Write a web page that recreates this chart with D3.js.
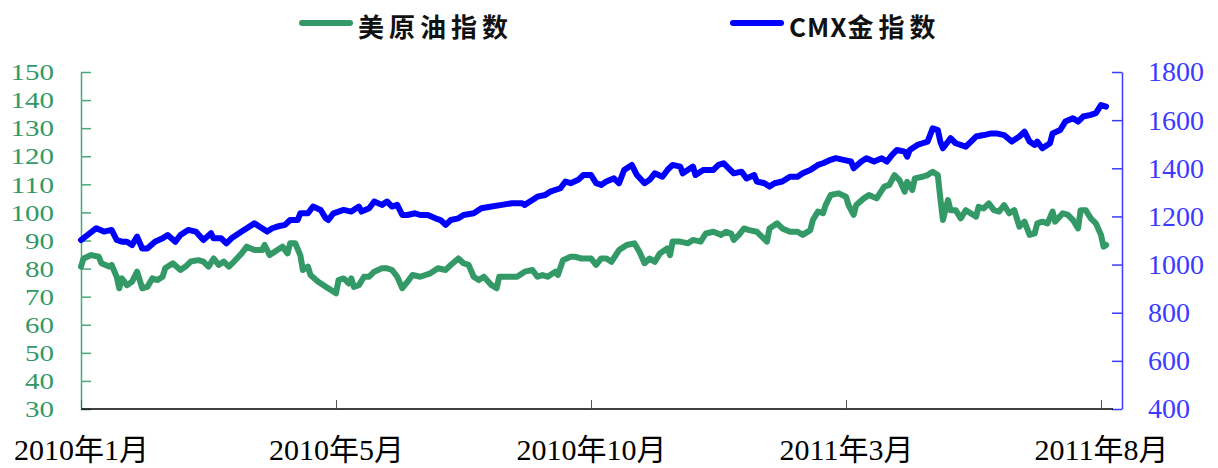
<!DOCTYPE html>
<html lang="zh">
<head>
<meta charset="UTF-8" />
<title>美原油指数 / CMX金指数</title>
<script src="https://cdn.jsdelivr.net/npm/d3@7"></script>
<style>
	body { margin: 0; background: #fff; }
	text { font-family: "Liberation Serif", "Noto Sans CJK SC", serif; }
</style>
</head>
<body>
<svg id="vis" width="1218" height="468"></svg>
<script>
	// trading-day index on the x axis (one category per trading day)
	const tickDays = [0, 100, 200, 300, 400];
	const tickLabels = ["2010年1月", "2010年5月", "2010年10月", "2011年3月", "2011年8月"];

	const seriesNames = ["美原油指数", "CMX金指数"];

	// 美原油指数
	const oilDays = [0, 1, 4, 7, 8, 11, 12, 14, 15, 16, 18, 20, 22, 24, 26, 28, 30, 32, 33, 36, 39, 41, 43, 46, 48, 50, 52, 54, 56, 58, 60, 63, 65, 68, 71, 72, 74, 77, 79, 81, 82, 84, 86, 87, 89, 90, 93, 96, 98, 100, 101, 103, 105, 106, 107, 109, 111, 113, 115, 118, 120, 122, 124, 126, 128, 130, 133, 137, 140, 143, 145, 148, 150, 152, 154, 156, 158, 161, 163, 164, 166, 169, 171, 174, 177, 179, 181, 183, 186, 187, 189, 192, 194, 196, 199, 200, 202, 204, 206, 208, 211, 214, 217, 219, 221, 223, 225, 227, 230, 231, 232, 235, 238, 240, 243, 245, 248, 251, 253, 255, 256, 258, 260, 262, 265, 267, 269, 270, 273, 275, 278, 281, 283, 286, 287, 289, 291, 292, 294, 297, 300, 301, 303, 304, 307, 309, 312, 315, 317, 319, 321, 323, 324, 326, 327, 330, 332, 334, 336, 337, 338, 340, 341, 343, 345, 347, 351, 352, 354, 356, 358, 360, 362, 364, 366, 368, 370, 372, 374, 375, 377, 379, 381, 382, 385, 387, 389, 391, 392, 394, 396, 398, 400, 401, 402];
	const oilValues = [80.7, 83.6, 84.8, 84.2, 81.9, 80.7, 81.3, 77.1, 73.0, 76.5, 74.1, 75.3, 78.9, 73.0, 73.5, 76.5, 75.9, 77.1, 80.1, 81.9, 79.5, 80.7, 82.5, 83.0, 82.5, 80.7, 83.6, 81.3, 82.5, 80.7, 82.5, 85.4, 87.8, 86.6, 86.6, 88.4, 84.8, 86.6, 87.8, 85.4, 89.0, 89.0, 84.8, 79.5, 80.7, 77.7, 75.3, 73.5, 72.4, 71.2, 75.9, 76.5, 74.7, 76.5, 73.5, 74.1, 77.1, 77.1, 78.9, 80.1, 80.1, 79.5, 77.1, 73.0, 75.3, 77.7, 77.1, 78.3, 80.1, 79.5, 81.3, 83.6, 81.9, 81.3, 77.1, 75.9, 77.1, 74.1, 73.0, 77.1, 77.1, 77.1, 77.1, 78.9, 79.5, 77.1, 77.7, 77.1, 78.9, 77.7, 83.0, 84.2, 84.2, 83.6, 83.6, 83.6, 81.3, 83.6, 83.6, 82.4, 86.6, 88.4, 89.0, 86.0, 81.9, 83.6, 82.4, 85.4, 87.2, 84.8, 89.6, 89.6, 89.0, 90.2, 89.6, 92.5, 93.1, 92.0, 93.1, 92.5, 90.2, 92.0, 94.3, 93.7, 93.1, 91.4, 89.6, 94.3, 96.1, 94.3, 93.1, 93.1, 92.0, 93.7, 97.3, 100.3, 99.7, 102.6, 106.2, 106.8, 105.6, 102.6, 99.1, 102.6, 105.0, 106.2, 105.0, 109.2, 109.8, 113.3, 111.5, 107.4, 110.9, 108.0, 112.1, 112.7, 113.3, 114.5, 113.3, 105.0, 97.3, 104.4, 100.8, 100.8, 97.9, 100.8, 98.5, 102.0, 101.4, 103.2, 100.8, 100.3, 102.6, 99.7, 100.8, 94.9, 96.7, 92.0, 92.5, 96.1, 96.7, 96.1, 100.3, 96.7, 99.7, 99.1, 97.3, 94.3, 100.8, 100.8, 97.9, 96.1, 92.0, 87.8, 88.4];

	// CMX金指数
	const goldDays = [0, 6, 9, 12, 14, 16, 18, 20, 22, 24, 26, 29, 32, 34, 37, 39, 42, 45, 48, 51, 52, 55, 57, 59, 63, 65, 68, 71, 73, 75, 77, 80, 82, 85, 86, 89, 91, 94, 96, 97, 99, 103, 106, 109, 110, 113, 115, 118, 120, 122, 124, 126, 128, 131, 133, 136, 139, 141, 143, 145, 148, 150, 154, 157, 161, 165, 169, 173, 174, 177, 179, 182, 184, 188, 190, 192, 195, 197, 200, 202, 204, 206, 209, 211, 213, 216, 218, 221, 223, 225, 228, 230, 232, 235, 236, 240, 241, 244, 248, 250, 252, 254, 256, 259, 261, 264, 265, 268, 270, 272, 275, 278, 281, 283, 286, 289, 291, 294, 296, 299, 302, 303, 306, 308, 311, 314, 316, 318, 320, 323, 324, 325, 328, 330, 332, 334, 336, 337, 338, 341, 343, 347, 349, 351, 354, 357, 359, 362, 365, 368, 370, 372, 374, 375, 377, 380, 381, 384, 386, 389, 391, 393, 396, 398, 400, 402];
	const goldValues = [1102, 1151, 1137, 1144, 1102, 1095, 1095, 1081, 1116, 1067, 1067, 1095, 1109, 1123, 1095, 1123, 1144, 1137, 1102, 1130, 1109, 1109, 1088, 1109, 1137, 1151, 1171, 1151, 1137, 1151, 1158, 1165, 1185, 1185, 1213, 1213, 1241, 1227, 1192, 1185, 1213, 1227, 1220, 1241, 1220, 1234, 1262, 1248, 1262, 1241, 1248, 1206, 1206, 1213, 1206, 1206, 1192, 1185, 1165, 1185, 1192, 1206, 1213, 1234, 1241, 1248, 1255, 1255, 1248, 1268, 1282, 1289, 1303, 1317, 1345, 1338, 1352, 1372, 1372, 1338, 1331, 1345, 1358, 1338, 1393, 1414, 1372, 1338, 1352, 1379, 1365, 1393, 1414, 1407, 1379, 1407, 1372, 1393, 1393, 1414, 1421, 1400, 1379, 1386, 1358, 1372, 1345, 1338, 1324, 1338, 1345, 1365, 1365, 1379, 1393, 1414, 1421, 1435, 1442, 1435, 1428, 1400, 1428, 1442, 1428, 1442, 1428, 1455, 1476, 1469, 1448, 1476, 1497, 1504, 1511, 1566, 1559, 1511, 1483, 1525, 1504, 1490, 1511, 1532, 1538, 1545, 1545, 1538, 1511, 1532, 1552, 1511, 1497, 1511, 1483, 1504, 1545, 1559, 1594, 1608, 1594, 1615, 1622, 1629, 1663, 1656];

	const oilTicks = d3.range(30, 151, 10);
	const goldTicks = d3.range(400, 1801, 200);

	const green = "#339966";
	const blue = "#0000ff";
	const greenAxis = "#4aa77a";
	const blueAxis = "#3b3bff";

	const plotLeft = 81, plotRight = 1122, plotTop = 72, plotBottom = 409;

	const svg = d3.select("#vis");

	const x = d3.scaleLinear().domain([0, 400]).range([plotLeft, 1101]);
	const yOil = d3.scaleLinear().domain([30, 150]).range([plotBottom, plotTop]);
	const yGold = d3.scaleLinear().domain([400, 1800]).range([plotBottom, plotTop]);

	// left axis (oil) - ticks point into the plot
	const gLeft = svg.append("g")
		.attr("transform", `translate(${plotLeft},0)`)
		.call(d3.axisLeft(yOil).tickValues(oilTicks).tickSizeInner(-10).tickSizeOuter(0).tickPadding(27));
	gLeft.selectAll("path, line").attr("stroke", greenAxis).attr("stroke-width", 1.5);
	gLeft.selectAll("text")
		.attr("fill", green)
		.style("font-size", "24px")
		.attr("textLength", d => String(d).length * 14.5)
		.attr("lengthAdjust", "spacingAndGlyphs");

	// right axis (gold)
	const gRight = svg.append("g")
		.attr("transform", `translate(${plotRight},0)`)
		.call(d3.axisRight(yGold).tickValues(goldTicks).tickFormat(d3.format("d"))
			.tickSizeInner(-10).tickSizeOuter(0).tickPadding(26));
	gRight.selectAll("path, line").attr("stroke", blueAxis).attr("stroke-width", 1.5);
	gRight.selectAll("text").attr("fill", blueAxis).style("font-size", "28px");

	// bottom axis
	const gX = svg.append("g")
		.attr("transform", `translate(0,${plotBottom})`)
		.call(d3.axisBottom(x).tickValues(tickDays).tickFormat((d, i) => tickLabels[i])
			.tickSizeInner(-9).tickSizeOuter(0).tickPadding(30));
	gX.select(".domain").attr("d", `M${plotLeft},0H${plotRight - 9}`).attr("stroke", "#000").attr("stroke-width", 1.5);
	gX.selectAll("line").attr("stroke", "#555");
	gX.selectAll("text").attr("fill", "#000").style("font-size", "30px").attr("dy", "0.7em");

	// lines
	const oilData = oilDays.map((d, i) => [d, oilValues[i]]);
	const goldData = goldDays.map((d, i) => [d, goldValues[i]]);

	svg.append("path")
		.datum(oilData)
		.attr("fill", "none")
		.attr("stroke", green)
		.attr("stroke-width", 6)
		.attr("stroke-linejoin", "round")
		.attr("stroke-linecap", "round")
		.attr("d", d3.line().x(d => x(d[0])).y(d => yOil(d[1])));

	svg.append("path")
		.datum(goldData)
		.attr("fill", "none")
		.attr("stroke", blue)
		.attr("stroke-width", 6)
		.attr("stroke-linejoin", "round")
		.attr("stroke-linecap", "round")
		.attr("d", d3.line().x(d => x(d[0])).y(d => yGold(d[1])));

	// legend
	const legendX = [302, 733];
	const legendColors = [green, blue];
	const gLegend = svg.append("g");
	seriesNames.forEach((name, i) => {
		gLegend.append("line")
			.attr("x1", legendX[i]).attr("x2", legendX[i] + 48)
			.attr("y1", 23).attr("y2", 23)
			.attr("stroke", legendColors[i]).attr("stroke-width", 6)
			.attr("stroke-linecap", "round");
		const t = gLegend.append("text")
			.attr("x", legendX[i] + 56)
			.attr("y", 25)
			.attr("dominant-baseline", "central")
			.style("font-family", "'Noto Sans CJK SC', sans-serif")
			.style("font-weight", "bold")
			.style("font-size", "26px")
			.attr("fill", "#111");
		// latin part stays tight, CJK part gets wider spacing
		const latin = name.match(/^[A-Za-z]*/)[0];
		if (latin) t.append("tspan").style("letter-spacing", "1px").text(latin);
		t.append("tspan").style("letter-spacing", "5px").text(name.slice(latin.length));
	});
</script>
</body>
</html>
